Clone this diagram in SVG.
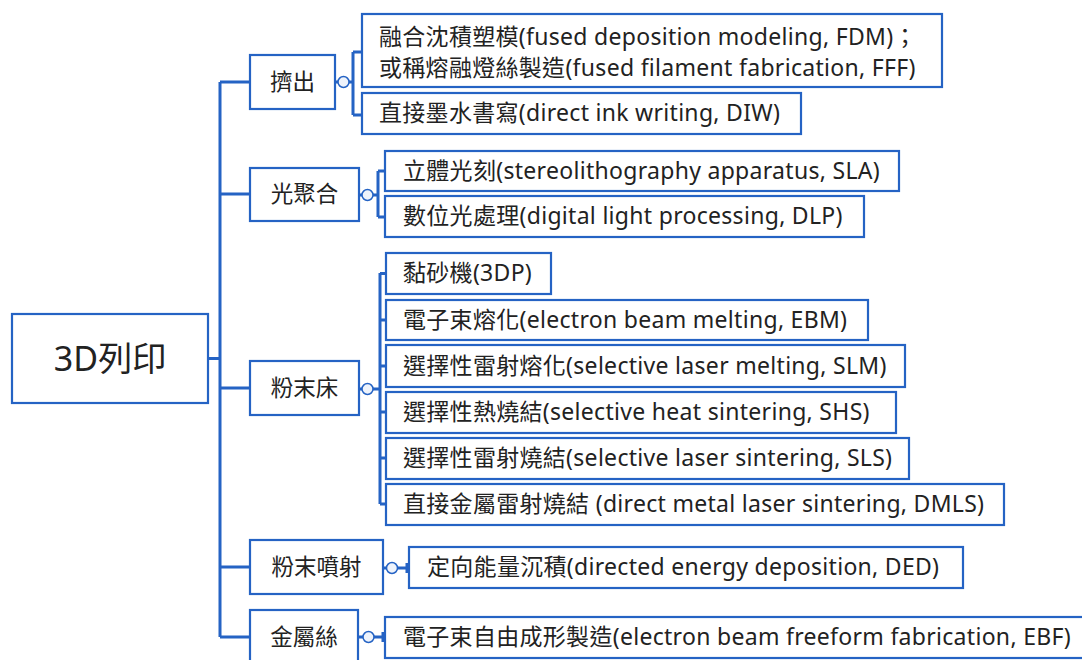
<svg xmlns="http://www.w3.org/2000/svg" width="1082" height="660" viewBox="0 0 1082 660">
<style>
.box{fill:#fff;stroke:#2563c4;stroke-width:2.2}
.ln{fill:none;stroke:#2563c4;stroke-width:3}
.dot{fill:#eef3fb;stroke:#2563c4;stroke-width:1.5}
text{font-family:"Noto Sans","Noto Sans CJK TC",sans-serif;fill:#222;font-size:23px;letter-spacing:0.3px}
.mid{text-anchor:middle;font-size:22.5px;letter-spacing:0}
.root{text-anchor:middle;font-size:34px;letter-spacing:0}
</style>
<rect width="1082" height="660" fill="#fff"/>
<g id="connectors">
<path class="ln" d="M208 358.5H220M220 82V637M220 82H250M220 194H250M220 388H250M220 567H250M220 637H250"/>
<path class="ln" d="M335 82H353M353 52V115M353 52H362M353 115H362"/>
<path class="ln" d="M359 195H378M378 171V217M378 171H385M378 217H385"/>
<path class="ln" d="M359 389H380M380 273V504M380 273.5H386M380 320H386M380 366H386M380 412H386M380 458H386M380 504H386"/>
<path class="ln" d="M383 568H409M407 563V573"/>
<path class="ln" d="M358 637H385M383 632V642"/>
<circle class="dot" cx="343.5" cy="82" r="5.5"/>
<circle class="dot" cx="367.5" cy="195" r="5.5"/>
<circle class="dot" cx="367.5" cy="389" r="5.5"/>
<circle class="dot" cx="392" cy="568" r="5.5"/>
<circle class="dot" cx="368.5" cy="637" r="5.5"/>
</g>
<g id="root"><rect class="box" x="12" y="314" width="196" height="89"/><text class="root" x="110" y="371">3D列印</text></g>
<g id="n-extrusion"><rect class="box" x="250" y="55" width="85" height="54"/><text class="mid" x="292.5" y="90">擠出</text></g>
<g id="n-photo"><rect class="box" x="250" y="168" width="109" height="53"/><text class="mid" x="304.5" y="202">光聚合</text></g>
<g id="n-powderbed"><rect class="box" x="250" y="361" width="109" height="54"/><text class="mid" x="304.5" y="396">粉末床</text></g>
<g id="n-powderjet"><rect class="box" x="250" y="540" width="133" height="54"/><text class="mid" x="316.5" y="575">粉末噴射</text></g>
<g id="n-wire"><rect class="box" x="250" y="610" width="108" height="60"/><text class="mid" x="304" y="645">金屬絲</text></g>
<g id="l-fdm"><rect class="box" x="362" y="14" width="580" height="73"/><text x="379" y="45">融合沈積塑模(fused deposition modeling, FDM)；</text><text x="379" y="76">或稱熔融燈絲製造(fused filament fabrication, FFF)</text></g>
<g id="l-diw"><rect class="box" x="362" y="93" width="439" height="41"/><text x="379" y="121">直接墨水書寫(direct ink writing, DIW)</text></g>
<g id="l-sla"><rect class="box" x="385" y="151" width="514" height="40"/><text x="403" y="179">立體光刻(stereolithography apparatus, SLA)</text></g>
<g id="l-dlp"><rect class="box" x="385" y="196" width="479" height="41"/><text x="403" y="224">數位光處理(digital light processing, DLP)</text></g>
<g id="l-3dp"><rect class="box" x="386" y="253" width="165" height="41"/><text x="403" y="281">黏砂機(3DP)</text></g>
<g id="l-ebm"><rect class="box" x="386" y="300" width="482" height="40"/><text x="403" y="328">電子束熔化(electron beam melting, EBM)</text></g>
<g id="l-slm"><rect class="box" x="386" y="345" width="519" height="42"/><text x="403" y="374">選擇性雷射熔化(selective laser melting, SLM)</text></g>
<g id="l-shs"><rect class="box" x="386" y="392" width="510" height="41"/><text x="403" y="420">選擇性熱燒結(selective heat sintering, SHS)</text></g>
<g id="l-sls"><rect class="box" x="386" y="438" width="523" height="41"/><text x="403" y="466">選擇性雷射燒結(selective laser sintering, SLS)</text></g>
<g id="l-dmls"><rect class="box" x="386" y="484" width="618" height="41"/><text x="403" y="512">直接金屬雷射燒結 (direct metal laser sintering, DMLS)</text></g>
<g id="l-ded"><rect class="box" x="409" y="547" width="554" height="41"/><text x="427" y="575">定向能量沉積(directed energy deposition, DED)</text></g>
<g id="l-ebf"><rect class="box" x="385" y="617" width="720" height="41"/><text x="403" y="645">電子束自由成形製造(electron beam freeform fabrication, EBF)</text></g>
</svg>
